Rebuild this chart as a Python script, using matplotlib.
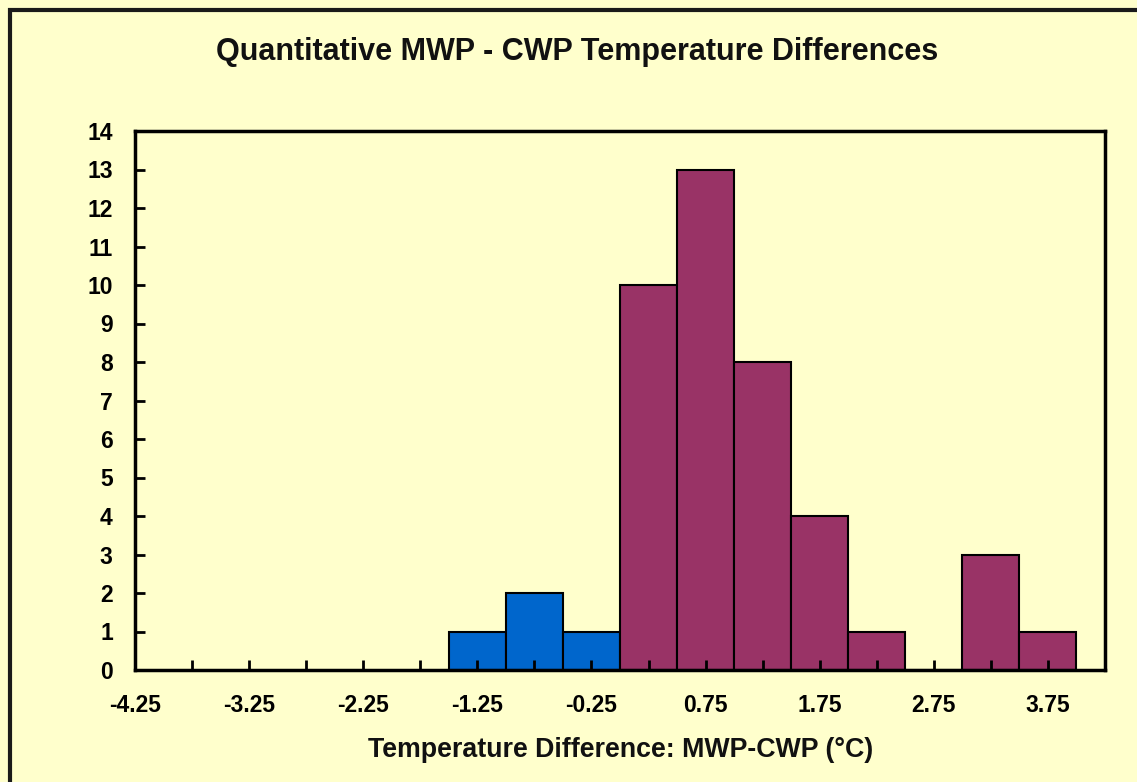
import matplotlib
matplotlib.use("Agg")
import matplotlib.pyplot as plt
from matplotlib.patches import Rectangle
import numpy as np

plt.rcParams['font.family'] = ['Liberation Sans', 'DejaVu Sans']

bin_centers = [-1.25, -0.75, -0.25, 0.25, 0.75, 1.25, 1.75, 2.25, 2.75, 3.25, 3.75]
counts = [1, 2, 1, 10, 13, 8, 4, 1, 0, 3, 1]
colors = ['#0066CC', '#0066CC', '#0066CC'] + ['#993366'] * 8
tick_labels = ['-4.25', '-3.25', '-2.25', '-1.25', '-0.25', '0.75', '1.75', '2.75', '3.75']
title = 'Quantitative MWP - CWP Temperature Differences'
xlabel = 'Temperature Difference: MWP-CWP (°C)'

bg = '#FFFFCC'
fig = plt.figure(figsize=(11.37, 7.82), dpi=100)
fig.patch.set_facecolor(bg)

# outer frame
fig.patches.append(Rectangle((10/1137, -0.05), 1.2, 1 - 10/782 + 0.05,
                             transform=fig.transFigure, fill=False,
                             edgecolor='#1a1a1a', linewidth=3, zorder=0))

ax = fig.add_axes([135/1137, 1 - 670/782, 970/1137, (670 - 131)/782])
ax.set_facecolor(bg)
ax.set_axisbelow(False)

ax.bar(bin_centers, counts, width=0.5, color=colors, edgecolor='black',
       linewidth=1.5, zorder=1.5)

ax.set_xlim(-4.25, 4.25)
ax.set_ylim(0, 14)
ax.set_yticks(range(0, 15))
major = np.arange(-4.25, 3.76, 1.0)
ax.set_xticks(major)
ax.set_xticklabels(tick_labels)
ax.set_xticks(np.arange(-3.75, 3.76, 1.0), minor=True)

ax.tick_params(axis='x', which='both', direction='in', length=7, width=2,
               color='black')
ax.tick_params(axis='x', which='major', pad=17, labelsize=16.5)
ax.tick_params(axis='y', direction='in', length=7, width=2, pad=16,
               labelsize=16.5)
for lab in ax.get_xticklabels() + ax.get_yticklabels():
    lab.set_fontweight('bold')

for s in ax.spines.values():
    s.set_linewidth(2.5)
    s.set_color('black')

fig.text(577/1137, 1 - 52/782, title, ha='center', va='center',
         fontsize=22, fontweight='bold', color='#111111')
fig.text(621/1137, 1 - 750/782, xlabel, ha='center', va='center',
         fontsize=19.3, fontweight='bold', color='#111111')

fig.savefig('out.png', dpi=100, facecolor=bg)
